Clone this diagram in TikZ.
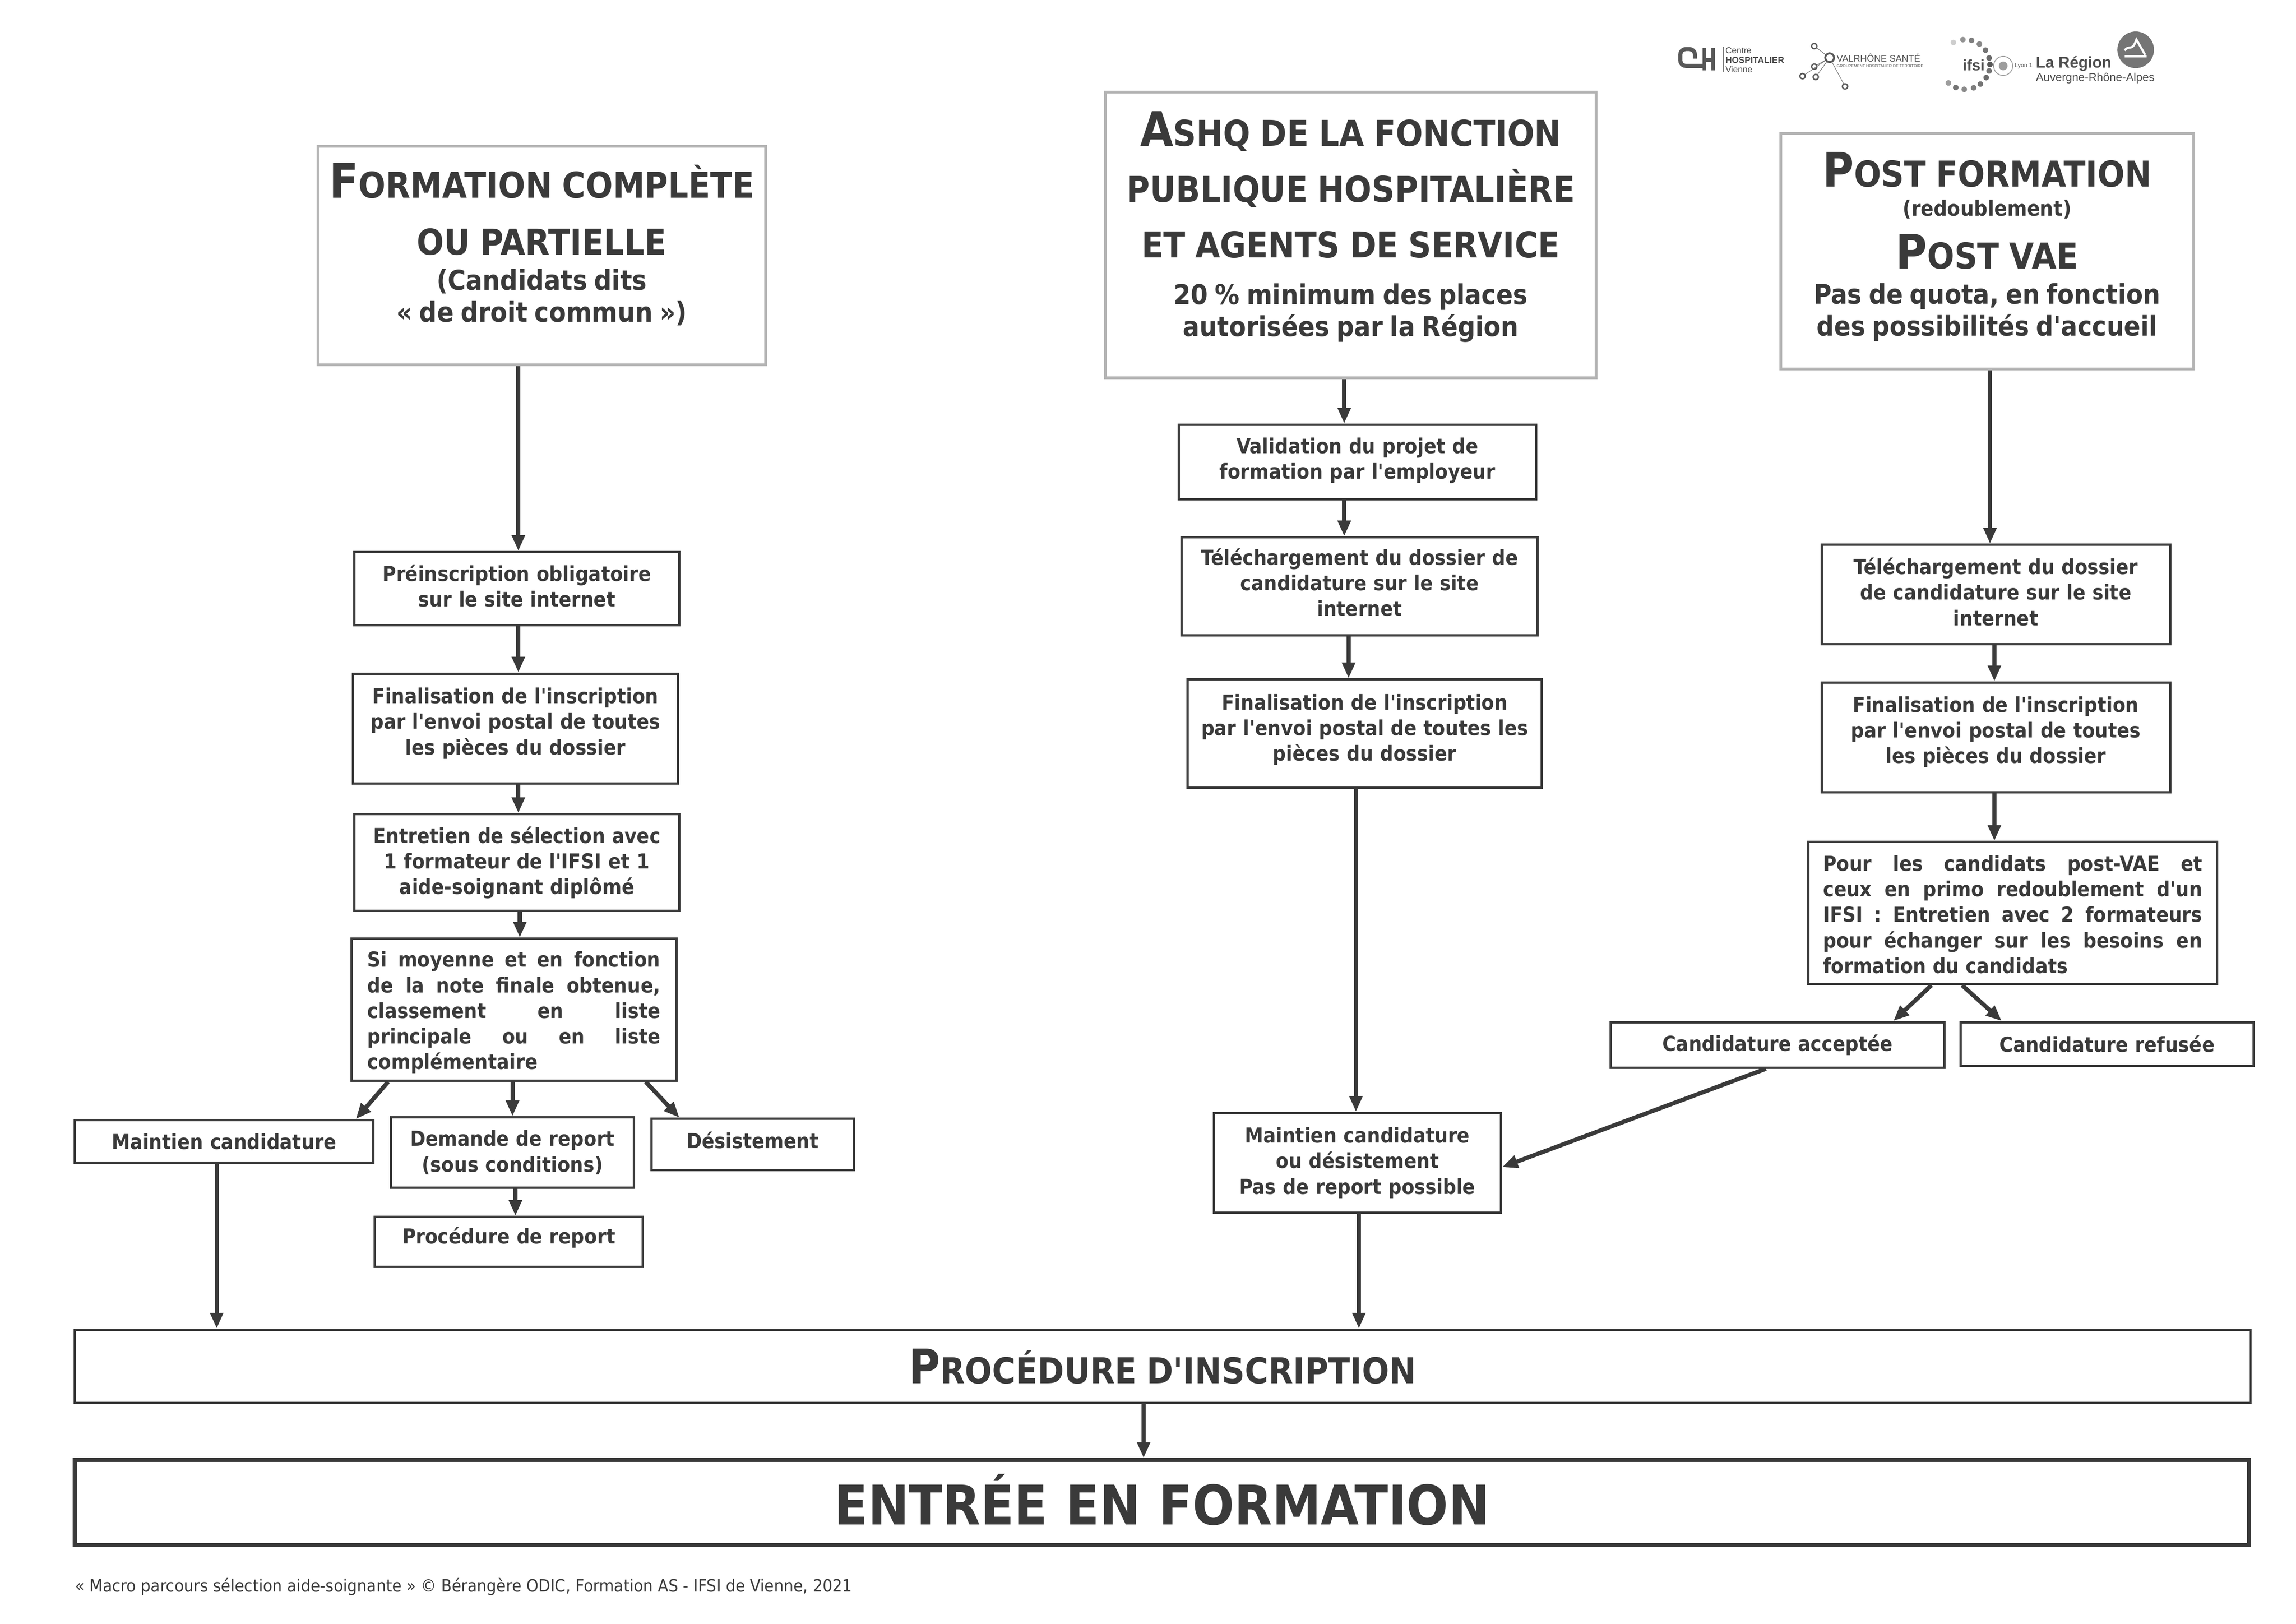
\documentclass[tikz,border=0pt]{standalone}
\usepackage{fontspec}
\usetikzlibrary{arrows.meta}
\newfontfamily\corpsfont{DejaVu Sans Condensed Bold}
\newfontfamily\notefont{DejaVu Sans Condensed}
\newfontfamily\logofont{Liberation Sans}
\definecolor{encre}{HTML}{3A3A3A}
\definecolor{cadre}{HTML}{B4B4B4}
\def\unitpx{0.01894cm}
\newcommand{\ligne}[3]{{\fontsize{#1}{#2}\selectfont #3\par}}
\newcommand{\lignecaps}[2]{{\fontsize{13.1}{#1}\selectfont\spaceskip=.28em\relax #2\par}}
\newcommand{\gros}[1]{{\fontsize{17.5}{20}\selectfont #1}}
\tikzset{
	taille/.style 2 args={minimum width=#1*\unitpx,minimum height=#2*\unitpx,text width=#1*\unitpx-4pt},
	monte/.style={execute at end node={\par\vspace*{#1}}},
	boite/.style={shape=rectangle,draw=encre,line width=.85pt,inner sep=0pt,align=center,text=encre,
		font=\corpsfont\fontsize{7.6}{9.4}\selectfont},
	titre/.style={boite,draw=cadre,line width=1pt},
	justifie/.style={boite,align=justify},
	fleche/.style={-{Stealth[inset=0pt,length=5.8pt,width=4.6pt]},draw=encre,line width=1.55pt},
	logotrait/.style={draw=encre!85,line width=1.1pt},
	logotexte/.style={inner sep=0pt,anchor=west,text=encre!90,font=\logofont}
}
\begin{document}
\begin{tikzpicture}[x=\unitpx,y=-\unitpx]
	\useasboundingbox (0,0) rectangle (1568,1108.7);
	% les trois titres
	\node[titre,taille={306}{149},monte=8.1pt] (titreA) at (370,174.5) {
		\lignecaps{15}{\gros{F}ORMATION COMPLÈTE}
		\lignecaps{21}{OU PARTIELLE}
		\ligne{10.1}{12.9}{(Candidats dits}
		\ligne{10.1}{11.8}{« de droit commun »)}};
	\node[titre,taille={335}{195},monte=6pt] (titreB) at (922.5,160.5) {
		\lignecaps{15}{\gros{A}SHQ DE LA FONCTION}
		\lignecaps{20.5}{PUBLIQUE HOSPITALIÈRE}
		\lignecaps{20.5}{ET AGENTS DE SERVICE}
		\ligne{10.1}{17.2}{20 \% minimum des places}
		\ligne{10.1}{11.8}{autorisées par la Région}};
	\node[titre,taille={282}{161},monte=3.3pt] (titreC) at (1357,171.5) {
		\lignecaps{15}{\gros{P}OST FORMATION}
		\ligne{7.8}{10.8}{(redoublement)}
		\lignecaps{19.4}{\gros{P}OST VAE}
		\ligne{10}{12.9}{Pas de quota, en fonction}
		\ligne{10}{11.8}{des possibilités d'accueil}};
	% colonne de gauche
	\node[boite,taille={222}{50},monte=2.2pt] (preinsc) at (353,402) {Préinscription obligatoire\\sur le site internet};
	\node[boite,taille={222}{75},monte=3.8pt] (finalA) at (352,497.5) {Finalisation de l'inscription\\par l'envoi postal de toutes\\les pièces du dossier};
	\node[boite,taille={222}{66}] (entretien) at (353,589) {Entretien de sélection avec\\1 formateur de l'IFSI et 1\\aide-soignant diplômé};
	\node[justifie,taille={222}{97},text width=200*\unitpx,monte=-2pt] (moyenne) at (351,689.5) {Si moyenne et en fonction\linebreak de la note finale obtenue,\linebreak classement en liste\linebreak principale ou en liste\linebreak complémentaire};
	\node[boite,taille={204}{29}] (maintienA) at (153,779.5) {Maintien candidature};
	\node[boite,taille={166}{48}] (demande) at (350,787) {Demande de report\\(sous conditions)};
	\node[boite,taille={138}{35},monte=3pt] (desist) at (514,781.5) {Désistement};
	\node[boite,taille={183}{34},monte=3pt] (report) at (347.5,848) {Procédure de report};
	% colonne du milieu
	\node[boite,taille={244}{51},monte=1pt] (projet) at (927,315.5) {Validation du projet de\\formation par l'employeur};
	\node[boite,taille={243}{67},monte=3pt] (telechB) at (928.5,400.5) {Téléchargement du dossier de\\candidature sur le site\\internet};
	\node[boite,taille={242}{74},monte=3pt] (finalB) at (932,501) {Finalisation de l'inscription\\par l'envoi postal de toutes les\\pièces du dossier};
	\node[boite,taille={196}{68}] (maintienB) at (927,794) {Maintien candidature\\ou désistement\\Pas de report possible};
	% colonne de droite
	\node[boite,taille={238}{68},monte=2pt] (telechC) at (1363,406) {Téléchargement du dossier\\de candidature sur le site\\internet};
	\node[boite,taille={238}{75},monte=4pt] (finalC) at (1363,503.5) {Finalisation de l'inscription\\par l'envoi postal de toutes\\les pièces du dossier};
	\node[justifie,taille={279}{97},text width=259*\unitpx,monte=-1pt] (postvae) at (1374.5,623.5) {Pour les candidats post-VAE et\linebreak ceux en primo redoublement d'un\linebreak IFSI : Entretien avec 2 formateurs\linebreak pour échanger sur les besoins en\linebreak formation du candidats};
	\node[boite,taille={228}{31}] (acceptee) at (1214,713.5) {Candidature acceptée};
	\node[boite,taille={200}{30}] (refusee) at (1439,713) {Candidature refusée};
	% bas de page
	\node[boite,taille={1486}{50},monte=-3pt] (inscription) at (794,933) {\lignecaps{15}{\gros{P}ROCÉDURE D'INSCRIPTION}};
	\node[boite,taille={1485}{58},line width=1.5pt,font=\corpsfont\fontsize{20.1}{22}\selectfont,monte=2pt] (entree) at (793.5,1026) {ENTRÉE EN FORMATION};
	\node[inner sep=0pt,anchor=west,text=encre,font=\notefont\fontsize{6.3}{7}\selectfont] (note) at (51,1083.5) {« Macro parcours sélection aide-soignante » © Bérangère ODIC, Formation AS - IFSI de Vienne, 2021};
	% les fleches
	\foreach \startNode/\endNode/\xdeb/\xfin in {titreA/preinsc/354/354,preinsc/finalA/354/354,finalA/entretien/354/354,
		entretien/moyenne/355/355,moyenne/maintienA/265/243,moyenne/demande/350/350,moyenne/desist/441/464,
		demande/report/352/352,maintienA/inscription/148/148,titreB/projet/918/918,projet/telechB/918/918,
		telechB/finalB/921/921,finalB/maintienB/926/926,maintienB/inscription/928/928,titreC/telechC/1359/1359,
		telechC/finalC/1362/1362,finalC/postvae/1362/1362,postvae/acceptee/1319/1293,postvae/refusee/1340/1367,
		inscription/entree/781/781}
	{
		\draw[fleche] (\xdeb,0 |- \startNode.south) -- (\xfin,0 |- \endNode.north);
	}
	\draw[fleche] (1206,0 |- acceptee.south) -- (maintienB.east |- 0,797);
	% logos
	\draw[logotrait,line width=1.5pt,rounded corners=2pt] (1157.5,40) -- (1157.5,33.5) -- (1147.5,33.5) -- (1147.5,45) -- (1163,45);
	\draw[logotrait,line width=1.5pt] (1164,33) -- (1164,48) (1170,33) -- (1170,48) (1164,41) -- (1170,41);
	\draw[draw=encre!60,line width=.3pt] (1177,32) -- (1177,49);
	\node[logotexte,font=\logofont\fontsize{3.2}{4}\selectfont] (centre) at (1178,34.5) {Centre};
	\node[logotexte,font=\logofont\bfseries\fontsize{3.25}{4}\selectfont] (hopital) at (1178,41) {HOSPITALIER};
	\node[logotexte,font=\logofont\fontsize{3.2}{4}\selectfont] (vienne) at (1178,47.5) {Vienne};
	\foreach \nomPoint/\xpt/\ypt in {h0/1239/31.5,h1/1239/45.5,h2/1231/52,h3/1240/52.6,h4/1260/59}
	{
		\draw[draw=encre!70,line width=.2pt] (1249.5,39.4) -- (\xpt,\ypt);
		\draw[draw=encre!85,fill=white,line width=.5pt] (\xpt,\ypt) circle (1.8);
	}
	\draw[draw=encre!85,fill=white,line width=.7pt] (1249.5,39.4) circle (3);
	\node[logotexte,font=\logofont\fontsize{3.4}{4}\selectfont] (valrhone) at (1254,39.5) {VALRHÔNE SANTÉ};
	\node[logotexte,font=\logofont\fontsize{1.45}{2}\selectfont] (ght) at (1254,45) {GROUPEMENT HOSPITALIER DE TERRITOIRE};
	\foreach \angle/\teinte in {62/25,85/55,105/65,125/60,145/70,165/75,180/85,195/70,212/75,232/70,250/65,272/60,292/70,312/50}
	{
		\fill[encre!\teinte] (1342,44) ++(\angle:-17) circle (1.9);
	}
	\node[logotexte,font=\logofont\bfseries\fontsize{5.6}{7}\selectfont] (ifsi) at (1340,44.5) {ifsi};
	\draw[draw=encre!50,line width=.3pt] (1368,45) circle (6.5);
	\fill[encre!50] (1368,45) circle (3);
	\node[logotexte,font=\logofont\fontsize{2.2}{3}\selectfont] (lyon) at (1375.5,45) {Lyon 1};
	\node[logotexte,font=\logofont\bfseries\fontsize{5.75}{7}\selectfont] (region) at (1390,43.5) {La Région};
	\node[logotexte,font=\logofont\fontsize{4.2}{5}\selectfont] (auvergne) at (1390,53.5) {Auvergne-Rhône-Alpes};
	\fill[encre!70] (1458.5,34) circle (12.5);
	\draw[draw=white,line width=.8pt] (1451,38.5) -- (1466,38.5) (1451,34.5) .. controls (1454,30) and (1456,36) .. (1459,27) -- (1465,37.5);
\end{tikzpicture}
\end{document}
